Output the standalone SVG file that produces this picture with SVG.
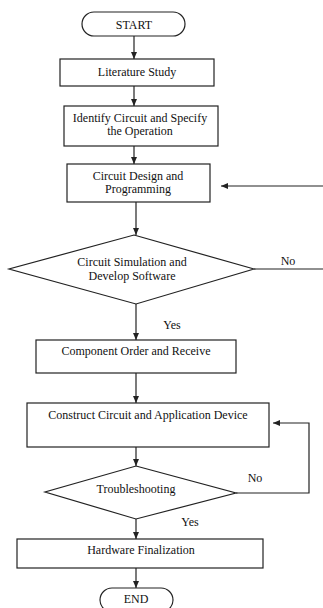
<svg xmlns="http://www.w3.org/2000/svg" width="323" height="608" viewBox="0 0 323 608">
<style>
.s{fill:#fff;stroke:#222;stroke-width:1.2}
.c{fill:none;stroke:#222;stroke-width:1.2}
text{font-family:"Liberation Serif","Times New Roman",serif;font-size:12px;fill:#111;text-anchor:middle}
</style>
<defs>
<marker id="a" markerWidth="8" markerHeight="8" refX="7" refY="4" orient="auto" markerUnits="userSpaceOnUse">
<path d="M0,1 L7,4 L0,7 Z" fill="#222"/>
</marker>
</defs>
<rect width="323" height="608" fill="#fff"/>
<g id="connectors">
<line class="c" x1="134" y1="36" x2="134" y2="59" marker-end="url(#a)"/>
<line class="c" x1="134" y1="86" x2="134" y2="106" marker-end="url(#a)"/>
<line class="c" x1="134" y1="146" x2="134" y2="164" marker-end="url(#a)"/>
<line class="c" x1="136" y1="202" x2="136" y2="235" marker-end="url(#a)"/>
<line class="c" x1="136" y1="304" x2="136" y2="340" marker-end="url(#a)"/>
<line class="c" x1="136" y1="373" x2="136" y2="403" marker-end="url(#a)"/>
<line class="c" x1="136" y1="447" x2="136" y2="466" marker-end="url(#a)"/>
<line class="c" x1="136" y1="519" x2="136" y2="539" marker-end="url(#a)"/>
<line class="c" x1="136" y1="568" x2="136" y2="588" marker-end="url(#a)"/>
<line class="c" x1="323" y1="186" x2="221" y2="186" marker-end="url(#a)"/>
<line class="c" x1="254" y1="269" x2="323" y2="269"/>
<polyline class="c" points="236,493 309,493 309,423 273,423" marker-end="url(#a)"/>
<text x="288" y="265">No</text>
<text x="172" y="329">Yes</text>
<text x="255" y="482">No</text>
<text x="190" y="526">Yes</text>
</g>
<g id="start">
<rect class="s" x="82" y="12" width="103" height="24" rx="12" ry="12"/>
<text x="134" y="29">START</text>
</g>
<g id="literature">
<rect class="s" x="60" y="59" width="154" height="27"/>
<text x="137" y="76">Literature Study</text>
</g>
<g id="identify">
<rect class="s" x="64" y="106" width="154" height="40"/>
<text x="140" y="122">Identify Circuit and Specify</text>
<text x="140" y="135">the Operation</text>
</g>
<g id="design">
<rect class="s" x="67" y="164" width="143" height="38"/>
<text x="138" y="180">Circuit Design and</text>
<text x="138" y="193">Programming</text>
</g>
<g id="simulation">
<polygon class="s" points="134,235 254,269 136,304 9,269"/>
<text x="132" y="266">Circuit Simulation  and</text>
<text x="132" y="280">Develop Software</text>
</g>
<g id="component">
<rect class="s" x="36" y="340" width="200" height="33"/>
<text x="136" y="355">Component Order and Receive</text>
</g>
<g id="construct">
<rect class="s" x="27" y="403" width="242" height="44"/>
<text x="148" y="419">Construct Circuit and Application  Device</text>
</g>
<g id="troubleshooting">
<polygon class="s" points="136,466 236,493 136,519 45,492"/>
<text x="136" y="493">Troubleshooting</text>
</g>
<g id="hardware">
<rect class="s" x="17" y="539" width="246" height="29"/>
<text x="141" y="554">Hardware Finalization</text>
</g>
<g id="end">
<rect class="s" x="100" y="588" width="73" height="24" rx="12" ry="12"/>
<text x="136" y="603">END</text>
</g>
</svg>
